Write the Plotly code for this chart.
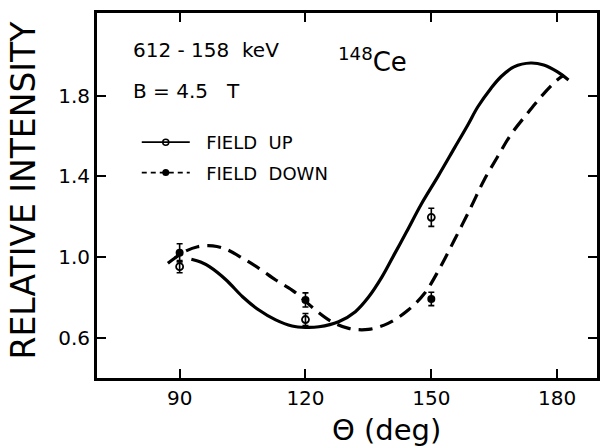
import plotly.graph_objects as go

# ---- data ----
theta_points = [90, 120, 150]
up_vals = [0.952, 0.690, 1.197]
up_err = [0.030, 0.030, 0.045]
down_vals = [1.021, 0.787, 0.792]
down_err = [0.045, 0.035, 0.033]

up_curve_theta = [92.8, 95.0, 97.1, 101.1, 105.0, 108.9, 112.9, 116.8, 120.0, 123.2,
                  127.9, 131.9, 135.0, 138.2, 141.3, 144.1, 147.6, 151.6, 155.5, 158.7,
                  161.1, 164.2, 166.6, 169.7, 173.7, 176.8, 180.0, 182.7]
up_curve_vals = [0.989, 0.975, 0.952, 0.886, 0.803, 0.737, 0.688, 0.658, 0.651, 0.654,
                 0.679, 0.729, 0.800, 0.900, 1.018, 1.125, 1.262, 1.400, 1.540, 1.655,
                 1.745, 1.836, 1.894, 1.943, 1.962, 1.952, 1.919, 1.878]

down_curve_theta = [87.2, 88.8, 91.5, 94.3, 97.9, 101.1, 105.0, 108.9, 112.9, 116.8,
                    118.4, 122.4, 126.3, 130.3, 135.0, 139.7, 144.5, 148.4, 152.0, 155.5,
                    159.5, 162.6, 165.8, 168.9, 172.9, 176.5, 180.0, 181.6]
down_curve_vals = [0.969, 0.994, 1.030, 1.051, 1.055, 1.038, 0.994, 0.944, 0.886, 0.836,
                   0.810, 0.737, 0.679, 0.646, 0.641, 0.671, 0.737, 0.820, 0.944, 1.084,
                   1.249, 1.382, 1.497, 1.605, 1.712, 1.803, 1.878, 1.902]

x_ticks = [90, 120, 150, 180]
y_ticks = [0.6, 1.0, 1.4, 1.8]
y_tick_labels = ["0.6", "1.0", "1.4", "1.8"]

FONT = "DejaVu Sans"
W, H = 600, 448
ML, MR, MT, MB = 97, 0, 13, 70


def px(x, y):
    return (x - ML) / (W - ML - MR), 1 - (y - MT) / (H - MT - MB)


fig = go.Figure()

fig.add_trace(go.Scatter(x=up_curve_theta, y=up_curve_vals, mode="lines",
                         line=dict(color="black", width=3.2, shape="spline"),
                         showlegend=False, hoverinfo="skip"))
fig.add_trace(go.Scatter(x=down_curve_theta, y=down_curve_vals, mode="lines",
                         line=dict(color="black", width=3.2, shape="spline", dash="14px,8px"),
                         showlegend=False, hoverinfo="skip"))

fig.add_trace(go.Scatter(x=theta_points, y=up_vals, mode="markers",
                         error_y=dict(type="data", array=up_err, color="black", thickness=1.6, width=3),
                         marker=dict(symbol="circle-open", size=7, color="black", line=dict(width=1.8)),
                         showlegend=False))
fig.add_trace(go.Scatter(x=theta_points, y=down_vals, mode="markers",
                         error_y=dict(type="data", array=down_err, color="black", thickness=1.6, width=3),
                         marker=dict(symbol="circle", size=8, color="black"),
                         showlegend=False))

# legend entries
fig.add_trace(go.Scatter(x=[None], y=[None], mode="lines+markers",
                         name="\u00a0\u00a0FIELD\u00a0\u00a0UP", legendgroup="up",
                         line=dict(color="black", width=1.8),
                         marker=dict(symbol="circle-open", size=6, color="black", line=dict(width=1.5))))
fig.add_trace(go.Scatter(x=[None], y=[None], mode="lines+markers",
                         name="\u00a0\u00a0FIELD\u00a0\u00a0DOWN", legendgroup="down",
                         line=dict(color="black", width=1.8, dash="5px,4px"),
                         marker=dict(symbol="circle", size=7, color="black")))

annotations = []


def add_text(text, x, y, size, xanchor="left", angle=0):
    ax, ay = px(x, y)
    annotations.append(dict(text=text, x=ax, y=ay, xref="paper", yref="paper",
                            xanchor=xanchor, yanchor="middle", showarrow=False,
                            textangle=angle, font=dict(family=FONT, size=size, color="black")))


add_text("612\u00a0-\u00a0158\u00a0\u00a0keV", 131, 50, 20)
add_text("B\u00a0=\u00a04.5\u00a0\u00a0\u00a0T", 131, 91, 20)
add_text("<sup>148</sup>Ce", 337, 60, 26)
add_text("\u0398\u00a0(deg)", 388, 430, 29, xanchor="center")
add_text("RELATIVE\u00a0INTENSITY", 23, 190, 33, xanchor="center", angle=-90)

axis_common = dict(showline=True, linecolor="black", linewidth=3, mirror="ticks",
                   ticks="inside", ticklen=9, tickwidth=2, tickcolor="black",
                   showgrid=False, zeroline=False,
                   tickfont=dict(family=FONT, size=20, color="black"))

fig.update_layout(
    width=W, height=H,
    margin=dict(l=ML, r=MR, t=MT, b=MB),
    paper_bgcolor="white", plot_bgcolor="white",
    xaxis=dict(range=[70.3, 189.5], tickvals=x_ticks, **axis_common),
    yaxis=dict(range=[0.40, 2.21], tickvals=y_ticks, ticktext=y_tick_labels, **axis_common),
    annotations=annotations,
    showlegend=True,
    legend=dict(x=px(137, 0)[0], y=px(0, 124)[1], xanchor="left", yanchor="top",
                bgcolor="rgba(0,0,0,0)", itemwidth=48, tracegroupgap=4,
                font=dict(family=FONT, size=18, color="black")),
)

fig.write_html("out.html", config={"displayModeBar": False},
               post_script="document.body.style.margin='0';")
